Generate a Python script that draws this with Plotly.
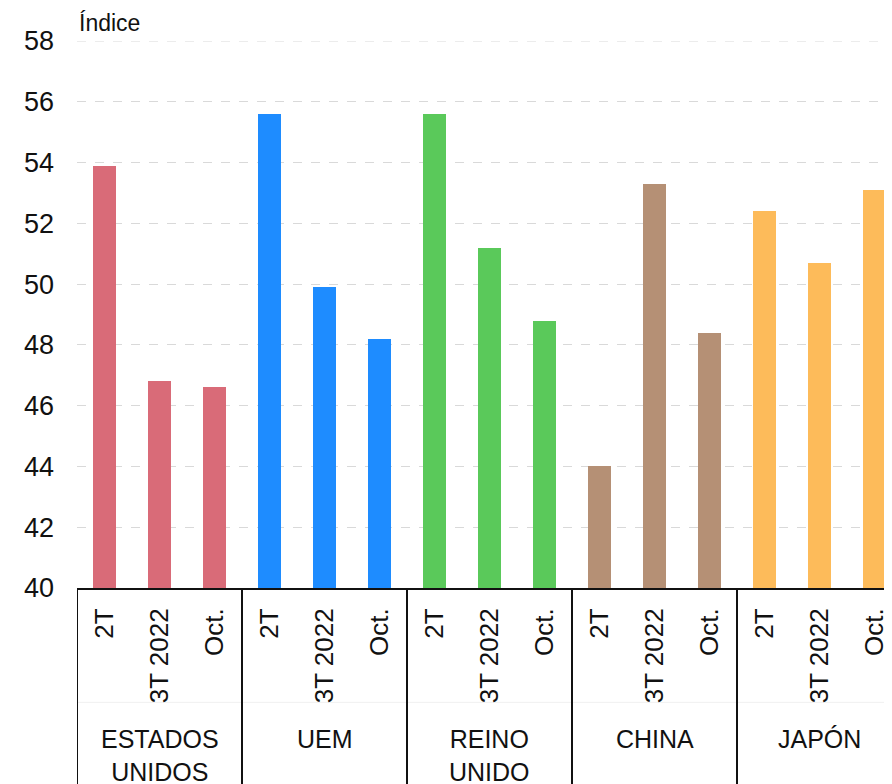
import plotly.graph_objects as go

groups = ["ESTADOS<br>UNIDOS", "UEM", "REINO<br>UNIDO", "CHINA", "JAPÓN"]
periods = ["2T", "3T 2022", "Oct."]
us = [53.9, 46.8, 46.6]
uem = [55.6, 49.9, 48.2]
uk = [55.6, 51.2, 48.8]
china = [44.0, 53.3, 48.4]
japan = [52.4, 50.7, 53.1]
colors = ["#D96B78", "#1E8CFF", "#5AC95A", "#B59075", "#FDBB5A"]
y_ticks = [40, 42, 44, 46, 48, 50, 52, 54, 56, 58]

series = [us, uem, uk, china, japan]
FONT = "Liberation Sans, Arial, sans-serif"

fig = go.Figure()
tickvals, ticktext = [], []
for gi, (vals, col) in enumerate(zip(series, colors)):
    xs = [gi * 3 + i for i in range(3)]
    tickvals += xs
    ticktext += periods
    fig.add_trace(go.Bar(x=xs, y=vals, marker=dict(color=col, line=dict(width=0)),
                         width=0.42, showlegend=False))

shapes = []
for b in [-0.5, 2.5, 5.5, 8.5, 11.5]:
    shapes.append(dict(type="line", xref="x", yref="paper", x0=b, x1=b, y0=0, y1=-0.40,
                       line=dict(color="#111111", width=2)))
shapes.append(dict(type="line", xref="paper", yref="paper", x0=0, x1=1, y0=-0.209, y1=-0.209,
                   line=dict(color="#f0f0f0", width=1), layer="below"))
shapes.append(dict(type="line", xref="paper", yref="y", x0=0, x1=1, y0=y_ticks[-1], y1=y_ticks[-1],
                   line=dict(color="#d9d9d9", width=1, dash="dash"), layer="below"))

annotations = []
for gi, g in enumerate(groups):
    annotations.append(dict(x=gi * 3 + 1, y=-0.246, xref="x", yref="paper", text=g,
                            showarrow=False, yanchor="top", xanchor="center",
                            font=dict(family=FONT, size=25, color="#111111")))
annotations.append(dict(x=0, y=1, xref="paper", yref="paper", text="Índice",
                        showarrow=False, xanchor="left", yanchor="middle", yshift=18,
                        font=dict(family=FONT, size=23, color="#111111")))

fig.update_layout(
    width=884, height=776,
    margin=dict(l=69, r=0, t=33, b=196),
    paper_bgcolor="white", plot_bgcolor="white",
    bargap=0,
    font=dict(family=FONT, color="#111111"),
    xaxis=dict(range=[-0.5, 14.318], tickmode="array", tickvals=tickvals, ticktext=ticktext,
               tickangle=-90, tickfont=dict(family=FONT, size=26, color="#111111"),
               showgrid=False, zeroline=False, showline=True, linecolor="#111111", linewidth=2,
               ticks="", ticklabelstandoff=8, fixedrange=True),
    yaxis=dict(range=[40, 58], tickvals=y_ticks, showgrid=True, gridcolor="#d9d9d9",
               griddash="dash", gridwidth=1, zeroline=False, showline=False, ticks="",
               tickfont=dict(family=FONT, size=27, color="#111111"), ticklabelstandoff=22),
    shapes=shapes, annotations=annotations,
)

fig.write_html("out.html")
